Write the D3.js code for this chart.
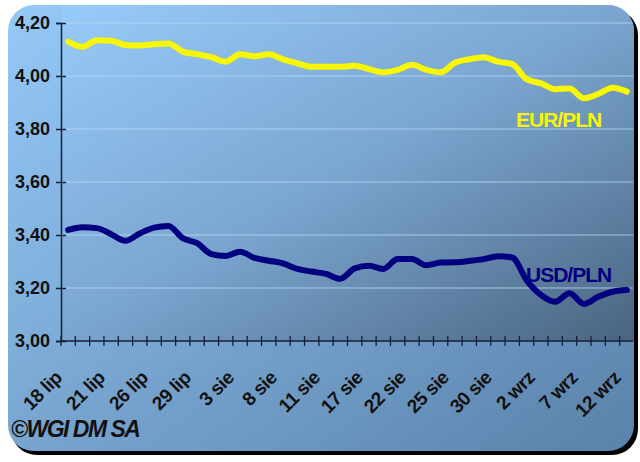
<!DOCTYPE html>
<html>
<head>
<meta charset="utf-8">
<script src="https://cdn.jsdelivr.net/npm/d3@7"></script>
<style>
  body { margin: 0; background: #fff; }
  text { font-family: 'Liberation Sans', Arial, sans-serif; font-weight: bold; }
</style>
</head>
<body>
<div id="chart"></div>
<script>
// trading days, 18 Jul - 12 Sep
let days = ['18 lip', '19 lip', '20 lip', '21 lip', '22 lip', '25 lip', '26 lip', '27 lip', '28 lip', '29 lip',
  '1 sie', '2 sie', '3 sie', '4 sie', '5 sie', '8 sie', '9 sie', '10 sie', '11 sie', '12 sie',
  '16 sie', '17 sie', '18 sie', '19 sie', '22 sie', '23 sie', '24 sie', '25 sie', '26 sie', '29 sie',
  '30 sie', '31 sie', '1 wrz', '2 wrz', '5 wrz', '6 wrz', '7 wrz', '8 wrz', '9 wrz', '12 wrz']

let eurPln = [4.13, 4.11, 4.135, 4.133, 4.117, 4.115, 4.12, 4.123, 4.092, 4.082,
  4.071, 4.054, 4.082, 4.075, 4.082, 4.063, 4.048, 4.035, 4.035, 4.035,
  4.039, 4.026, 4.014, 4.023, 4.042, 4.023, 4.014, 4.05, 4.063, 4.071,
  4.054, 4.045, 3.988, 3.972, 3.95, 3.953, 3.916, 3.932, 3.956, 3.941]

let usdPln = [3.419, 3.429, 3.426, 3.403, 3.378, 3.406, 3.428, 3.434, 3.388, 3.369,
  3.328, 3.321, 3.337, 3.314, 3.303, 3.293, 3.272, 3.262, 3.253, 3.235,
  3.274, 3.284, 3.272, 3.309, 3.309, 3.286, 3.296, 3.297, 3.302, 3.309,
  3.32, 3.315, 3.23, 3.174, 3.148, 3.18, 3.14, 3.167, 3.186, 3.192]

let yTicks = [3.0, 3.2, 3.4, 3.6, 3.8, 4.0, 4.2]

let width = 640
let height = 462
let margin = { top: 23, right: 7, bottom: 121, left: 61 }

let svg = d3.select('#chart')
  .append('svg')
  .attr('width', width)
  .attr('height', height)

let defs = svg.append('defs')

let panelGrad = defs.append('linearGradient')
  .attr('id', 'panel-grad')
  .attr('x1', '0%').attr('y1', '0%').attr('x2', '100%').attr('y2', '100%')
panelGrad.append('stop').attr('offset', '0%').attr('stop-color', '#95c9f7')
panelGrad.append('stop').attr('offset', '100%').attr('stop-color', '#5a82aa')

let plotGrad = defs.append('linearGradient')
  .attr('id', 'plot-grad')
  .attr('x1', '0%').attr('y1', '0%').attr('x2', '100%').attr('y2', '100%')
plotGrad.append('stop').attr('offset', '0%').attr('stop-color', '#97cbfa')
plotGrad.append('stop').attr('offset', '50%').attr('stop-color', '#7aa5cf')
plotGrad.append('stop').attr('offset', '100%').attr('stop-color', '#4a6480')

let clip = defs.append('clipPath').attr('id', 'panel-clip')
clip.append('rect')
  .attr('x', 8).attr('y', 5).attr('width', 626).attr('height', 446)
  .attr('rx', 26).attr('ry', 26)

// shadow + panel
svg.append('rect')
  .attr('x', 11).attr('y', 9).attr('width', 627).attr('height', 446)
  .attr('rx', 26).attr('ry', 26)
  .attr('fill', '#000')
svg.append('rect')
  .attr('x', 8).attr('y', 5).attr('width', 626).attr('height', 446)
  .attr('rx', 26).attr('ry', 26)
  .attr('fill', 'url(#panel-grad)')

let x = d3.scaleBand()
  .domain(days)
  .range([margin.left, 634])

let y = d3.scaleLinear()
  .domain([3.0, 4.2])
  .range([height - margin.bottom, margin.top])

// plot area
svg.append('g')
  .attr('clip-path', 'url(#panel-clip)')
  .append('rect')
  .attr('x', margin.left)
  .attr('y', 5)
  .attr('width', 634 - margin.left)
  .attr('height', y(3.0) - 5)
  .attr('fill', 'url(#plot-grad)')

// gridlines
svg.append('g')
  .selectAll('line')
  .data(yTicks.slice(1))
  .enter()
  .append('line')
  .attr('x1', margin.left)
  .attr('x2', 633)
  .attr('y1', d => y(d))
  .attr('y2', d => y(d))
  .attr('stroke', '#b3daf8')
  .attr('stroke-opacity', 0.8)
  .attr('stroke-width', 1.2)

// y axis
let yAxis = svg.append('g')
  .attr('transform', `translate(${margin.left},0)`)
  .call(d3.axisLeft(y).tickValues(yTicks).tickSize(5).tickPadding(9)
    .tickFormat(d => d3.format('.2f')(d).replace('.', ',')))
yAxis.select('.domain').attr('stroke', '#13203a').attr('stroke-width', 1.5)
yAxis.selectAll('.tick line').attr('stroke', '#13203a').attr('stroke-width', 1.5)
  .attr('x1', 5).attr('x2', -5)
yAxis.selectAll('.tick text')
  .attr('fill', '#111')
  .style('font-size', '18px')
  .attr('x', -11)

// x axis with ticks between categories
let xAxis = svg.append('g')
  .attr('transform', `translate(0,${y(3.0)})`)
xAxis.append('line')
  .attr('x1', margin.left).attr('x2', 633)
  .attr('stroke', '#13203a').attr('stroke-width', 1.5)
xAxis.selectAll('.xtick')
  .data(days)
  .enter()
  .append('line')
  .attr('class', 'xtick')
  .attr('x1', d => x(d)).attr('x2', d => x(d))
  .attr('y1', -5).attr('y2', 5)
  .attr('stroke', '#13203a').attr('stroke-width', 1.3)

xAxis.selectAll('.xlabel')
  .data(days.filter((d, i) => i % 3 === 0))
  .enter()
  .append('text')
  .attr('class', 'xlabel')
  .attr('text-anchor', 'end')
  .attr('transform', d => `translate(${x(d) + x.bandwidth() / 2 - 5},${38}) rotate(-45)`)
  .attr('fill', '#111')
  .style('font-size', '19px')
  .style('letter-spacing', '-0.5px')
  .text(d => d)

let line = d3.line()
  .x((d, i) => x(days[i]) + x.bandwidth() / 2)
  .y(d => y(d))
  .curve(d3.curveMonotoneX)

svg.append('path')
  .datum(eurPln)
  .attr('d', line)
  .attr('fill', 'none')
  .attr('stroke', '#f7f700')
  .attr('stroke-width', 6)
  .attr('stroke-linejoin', 'round')
  .attr('stroke-linecap', 'round')

svg.append('path')
  .datum(usdPln)
  .attr('d', line)
  .attr('fill', 'none')
  .attr('stroke', '#000080')
  .attr('stroke-width', 6)
  .attr('stroke-linejoin', 'round')
  .attr('stroke-linecap', 'round')

// series labels
svg.append('text')
  .attr('x', 516)
  .attr('y', 127)
  .attr('fill', '#f7f700')
  .style('font-size', '21px')
  .style('letter-spacing', '-1px')
  .text('EUR/PLN')

svg.append('text')
  .attr('x', 526)
  .attr('y', 282)
  .attr('fill', '#000080')
  .style('font-size', '21px')
  .style('letter-spacing', '-1px')
  .text('USD/PLN')

svg.append('text')
  .attr('x', 11)
  .attr('y', 437)
  .attr('fill', '#111')
  .style('font-size', '23px')
  .style('font-style', 'italic')
  .style('letter-spacing', '-1.5px')
  .text('©WGI DM SA')
</script>
</body>
</html>
